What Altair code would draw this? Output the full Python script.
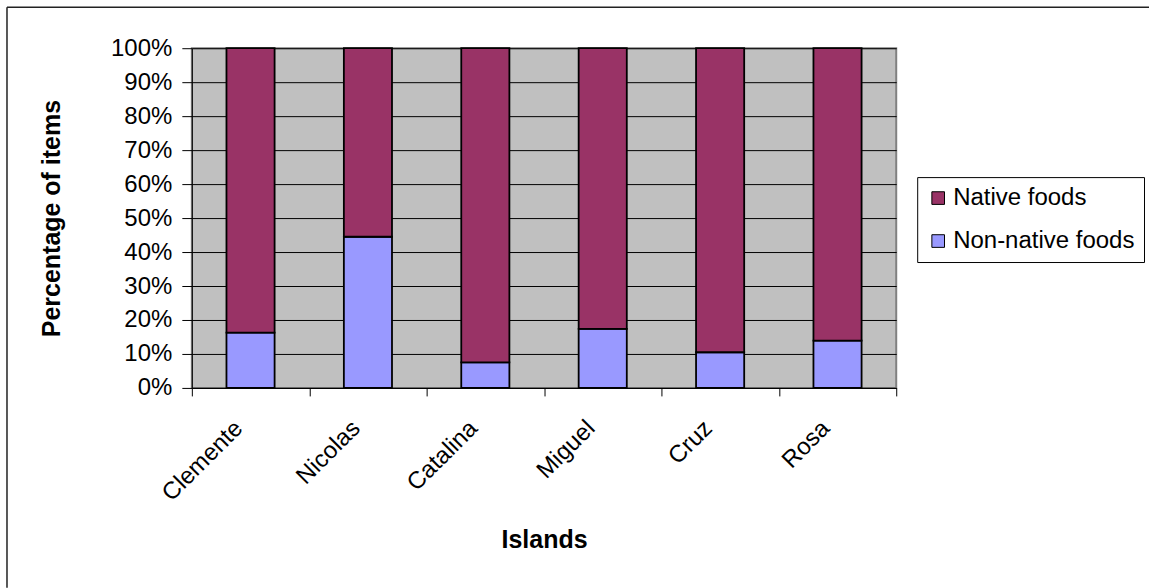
import altair as alt
import pandas as pd

islands = ["Clemente", "Nicolas", "Catalina", "Miguel", "Cruz", "Rosa"]
non_native_pct = [16.3, 44.5, 7.5, 17.4, 10.5, 13.9]
native_pct = [83.7, 55.5, 92.5, 82.6, 89.5, 86.1]
series = ["Native foods", "Non-native foods"]
series_colors = ["#993366", "#9999FF"]
y_ticks = [i / 10 for i in range(11)]
x_boundaries = [0, 1, 2, 3, 4, 5, 6]

rows = []
for isl, nn, nt in zip(islands, non_native_pct, native_pct):
    rows.append({"island": isl, "series": "Non-native foods", "share": nn / 100, "ord": 0})
    rows.append({"island": isl, "series": "Native foods", "share": nt / 100, "ord": 1})
df = pd.DataFrame(rows)

FONT = "Liberation Sans"

bars = alt.Chart(df).mark_bar(stroke="black", strokeWidth=1.8).encode(
    x=alt.X(
        "island:N",
        sort=islands,
        scale=alt.Scale(paddingInner=0.59, paddingOuter=0.295),
        axis=alt.Axis(
            title="Islands", orient="bottom", labelAngle=-45, ticks=False,
            domain=False, labelFontSize=24, labelFont=FONT, labelColor="black",
            labelPadding=28, labelOffset=-20, labelLimit=0,
            titleFont=FONT, titleFontSize=25, titleFontWeight="bold",
            titleColor="black", titlePadding=22,
        ),
    ),
    y=alt.Y(
        "share:Q",
        stack="zero",
        scale=alt.Scale(domain=[0, 1], nice=False),
        axis=alt.Axis(
            title="Percentage of items", values=y_ticks, format=".0%",
            grid=True, gridColor="black", gridWidth=1, gridOpacity=1,
            tickSize=10, tickColor="black", domainColor="black", domainWidth=1,
            labelFontSize=24, labelFont=FONT, labelColor="black", labelPadding=10,
            titleFont=FONT, titleFontSize=25, titleFontWeight="bold",
            titleColor="black", titlePadding=46,
        ),
    ),
    color=alt.Color(
        "series:N",
        scale=alt.Scale(domain=series, range=series_colors),
        legend=alt.Legend(
            title=None, orient="none", legendX=726, legendY=129,
            symbolType="square", symbolSize=160, symbolStrokeColor="black",
            symbolStrokeWidth=1, symbolOpacity=1,
            labelFont=FONT, labelFontSize=24, labelColor="black", labelOffset=3,
            labelLimit=0, rowPadding=19, padding=9,
            strokeColor="black", fillColor="white",
        ),
    ),
    order=alt.Order("ord:Q"),
)

ticks = alt.Chart(pd.DataFrame({"b": x_boundaries})).mark_rule(opacity=0).encode(
    x=alt.X(
        "b:Q",
        scale=alt.Scale(domain=[0, 6], nice=False, zero=False),
        axis=alt.Axis(
            values=x_boundaries, labels=False, title=None, orient="bottom",
            tickSize=8, tickColor="black", domainColor="black", domainWidth=1,
            grid=False,
        ),
    )
)

frame_df = pd.DataFrame({"k": [0]})
frame_left = alt.Chart(frame_df).mark_rule(color="#222222", strokeWidth=1.5).encode(
    x=alt.value(-185), y=alt.value(-41), y2=alt.value(540)
)
frame_top = alt.Chart(frame_df).mark_rule(color="#222222", strokeWidth=1.5).encode(
    x=alt.value(-185), x2=alt.value(958), y=alt.value(-41)
)

chart = alt.layer(bars, ticks, frame_left, frame_top).resolve_scale(
    x="independent"
).properties(
    width=705, height=340,
    padding={"left": 6, "top": 6, "right": 0, "bottom": 0},
    background="white",
).configure_view(
    fill="#C0C0C0", stroke="#808080", strokeWidth=2
)

chart.save("out.html", embed_options={"renderer": "svg", "actions": False})
